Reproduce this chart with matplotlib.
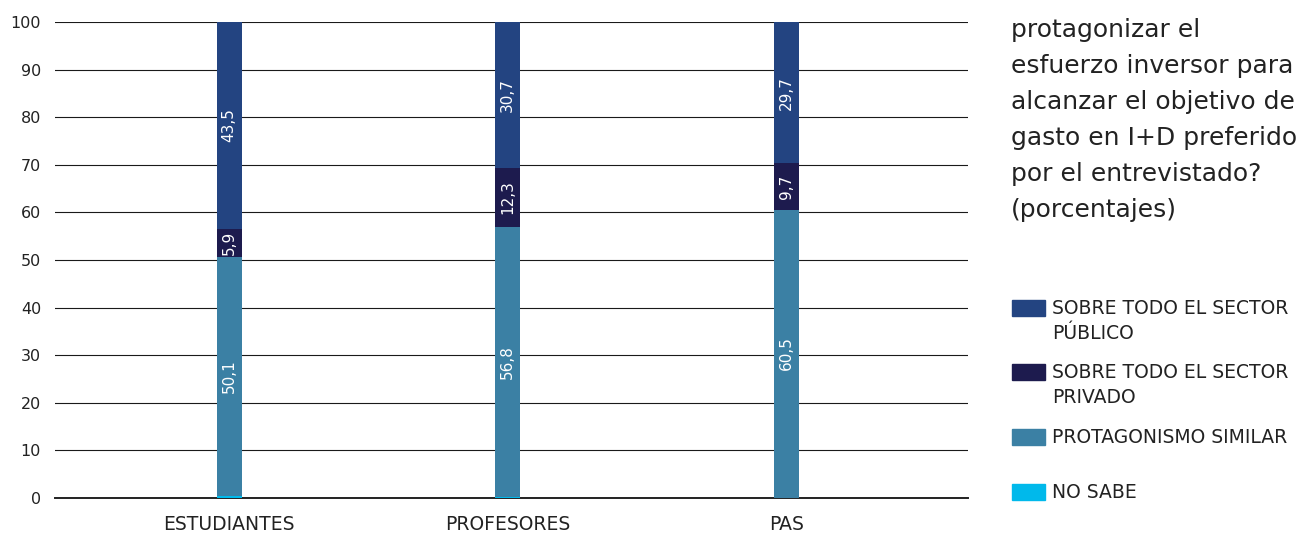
import matplotlib.pyplot as plt
from matplotlib.patches import Rectangle
import numpy as np

plt.rcParams['font.family'] = ['DejaVu Sans']

# datos (porcentajes)
grupos = ['ESTUDIANTES', 'PROFESORES', 'PAS']
no_sabe = [0.5, 0.2, 0.1]
similar = [50.1, 56.8, 60.5]
privado = [5.9, 12.3, 9.7]
publico = [43.5, 30.7, 29.7]

series = [
    ('NO SABE', no_sabe, '#00b9eb'),
    ('PROTAGONISMO SIMILAR', similar, '#3b80a4'),
    ('SOBRE TODO EL SECTOR\nPRIVADO', privado, '#1d1b4e'),
    ('SOBRE TODO EL SECTOR\nPÚBLICO', publico, '#234481'),
]

fig = plt.figure(figsize=(13.06, 5.34), dpi=100)
ax = fig.add_axes([55/1306, 1 - 498/534, (968-55)/1306, (498-22)/534])

x = np.arange(len(grupos))
base = np.zeros(len(grupos))
for nombre, vals, col in series:
    vals = np.array(vals)
    ax.bar(x, vals, 0.09, bottom=base, color=col, zorder=3)
    if nombre != 'NO SABE':
        for xi, b, v in zip(x, base, vals):
            ax.text(xi, b + v/2, f'{v:.1f}'.replace('.', ','), rotation=90,
                    ha='center', va='center', color='white', fontsize=11, zorder=4)
    base += vals

ax.set_xlim(-0.625, 2.653)
ax.set_ylim(0, 100)
ax.set_yticks(range(0, 101, 10))
ax.yaxis.grid(True, color='#1a1a1a', linewidth=0.8)
ax.set_axisbelow(True)
# linea del cero un poco mas gruesa, por debajo de las barras
ax.axhline(0, color='#222222', linewidth=1.4, zorder=2, clip_on=False)
for s in ax.spines.values():
    s.set_visible(False)
ax.tick_params(axis='y', length=0, pad=10, labelsize=11.5, labelcolor='#222222')
ax.tick_params(axis='x', length=0, pad=12, labelsize=13.5, labelcolor='#222222')
ax.set_xticks(x)
ax.set_xticklabels(grupos)

# titulo a la derecha
titulo = ['protagonizar el', 'esfuerzo inversor para', 'alcanzar el objetivo de',
          'gasto en I+D preferido', 'por el entrevistado?', '(porcentajes)']
for i, linea in enumerate(titulo):
    fig.text(1011/1306, 1 - (37 + i*36)/534, linea, fontsize=18, color='#222222',
             ha='left', va='baseline')

# leyenda
ley_y = [308, 372, 437, 492]
for (nombre, vals, col), yy in zip(series[::-1], ley_y):
    fig.patches.append(Rectangle((1012/1306, 1 - (yy + 8)/534), 33/1306, 16/534,
                                 transform=fig.transFigure, color=col))
    fig.text(1052/1306, 1 - (yy + 6)/534, nombre.split('\n')[0], fontsize=13.5,
             color='#222222', ha='left', va='baseline')
    if '\n' in nombre:
        fig.text(1052/1306, 1 - (yy + 31)/534, nombre.split('\n')[1], fontsize=13.5,
                 color='#222222', ha='left', va='baseline')

fig.savefig('out.png', dpi=100)
